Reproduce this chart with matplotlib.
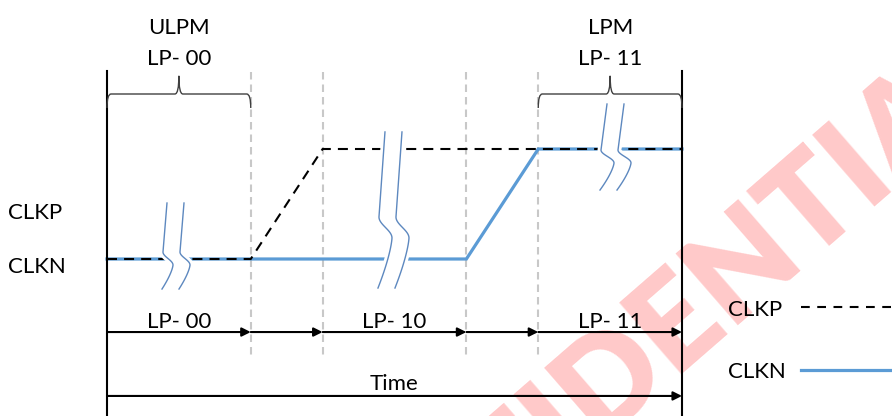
import numpy as np
import matplotlib
matplotlib.use("Agg")
import matplotlib.pyplot as plt
from matplotlib.path import Path
from matplotlib.patches import PathPatch

plt.rcParams["font.family"] = ["Lato", "DejaVu Sans"]

# --- data ---------------------------------------------------------------
# signal levels over time (time in arbitrary units, level 0 = low, 1 = high)
clkp_t = [0, 2, 3, 8]
clkp_v = [0, 0, 1, 1]
clkn_t = [0, 5, 6, 8]
clkn_v = [0, 0, 1, 1]

# state boundaries along the time axis and the state names between them
phase_edges = [0, 2, 3, 5, 6, 8]
phase_labels = ["LP- 00", "", "LP- 10", "", "LP- 11"]

# power modes shown with braces on top
mode_spans = [(0, 2), (6, 8)]
mode_names = ["ULPM", "LPM"]
mode_states = ["LP- 00", "LP- 11"]

# break marks: left time, top, bend, bulge, bottom (levels), bulge/top offsets (px)
break_t = [0.779, 3.784, 6.873]
break_top = [0.509, 1.155, 1.409]
break_bend = [0.064, 0.382, 0.991]
break_bulge = [-0.055, 0.191, 0.873]
break_bot = [-0.273, -0.264, 0.627]
break_dx = [10, 13, 13]
break_tdx = [4, 6, 6]

# --- layout -------------------------------------------------------------
PX_T = 71.875     # pixels per time unit
PX_L = 110.0      # pixels per level unit
BLUE = "#5b9bd5"
FS = 16

fig = plt.figure(figsize=(8.92, 4.16), dpi=100)
ax = fig.add_axes([0, 0, 1, 1])
ax.set_xlim(-107 / PX_T, (892 - 107) / PX_T)
ax.set_ylim(-157 / PX_L, 259 / PX_L)
ax.axis("off")

# watermark
ax.text(7.28, -0.96, "CONFIDENTIAL", fontsize=94, fontweight="heavy",
        color="#ffc9c9", rotation=41, rotation_mode="anchor",
        ha="center", va="center", zorder=0)

# frame lines
t_start, t_end = phase_edges[0], phase_edges[-1]
for t in (t_start, t_end):
    ax.plot([t, t], [1.71, -1.5], color="black", lw=1.5, zorder=3)
for t in phase_edges[1:-1]:
    ax.plot([t, t], [1.70, -0.90], color="#c8c8c8", lw=1.5,
            linestyle=(0, (3.6, 2.4)), zorder=1)

# signals
ax.plot(clkn_t, clkn_v, color=BLUE, lw=2.3, zorder=2, solid_joinstyle="miter")
ax.plot(clkp_t, clkp_v, color="black", lw=1.5, linestyle=(0, (4.8, 3.4)), zorder=3)


# break marks
def break_curve(t0, yt, yb, ym, ye, bulge, tdx, n=40):
    s = np.linspace(0, 1, n)
    y1 = yt + (yb - yt) * s
    d1 = tdx * (1 - s)
    y2 = yb + (ym - yb) * s
    d2 = bulge * (1 - np.cos(np.pi * s)) / 2
    y3 = ym + (ye - ym) * s
    d3 = bulge - (bulge + 1) * s ** 1.4
    y = np.r_[y1, y2[1:], y3[1:]]
    d = np.r_[d1, d2[1:], d3[1:]]
    return t0 + d / PX_T, y


gap = 17 / PX_T
for i in range(len(break_t)):
    xl, yl = break_curve(break_t[i], break_top[i], break_bend[i], break_bulge[i],
                         break_bot[i], break_dx[i], break_tdx[i])
    xr = xl + gap
    ax.fill(np.r_[xl, xr[::-1]], np.r_[yl, yl[::-1]], color="white", lw=0, zorder=4)
    for xx in (xl, xr):
        ax.plot(xx, yl, color="white", lw=5, zorder=4, solid_capstyle="butt")
        ax.plot(xx, yl, color="#5d88bf", lw=1.0, zorder=5)


# braces
def brace(t0, t1, y_base, y_tip, y_end):
    r = 4 / PX_T
    tm = (t0 + t1) / 2
    verts = [(t0, y_end), (t0, y_base), (t0 + r, y_base),
             (tm - r, y_base), (tm, y_base), (tm, y_tip),
             (tm, y_base), (tm + r, y_base),
             (t1 - r, y_base), (t1, y_base), (t1, y_end)]
    codes = [Path.MOVETO, Path.CURVE3, Path.CURVE3,
             Path.LINETO, Path.CURVE3, Path.CURVE3,
             Path.CURVE3, Path.CURVE3,
             Path.LINETO, Path.CURVE3, Path.CURVE3]
    return PathPatch(Path(verts, codes), fill=False, edgecolor="#404040", lw=1.0, zorder=3)


for (t0, t1), name, state in zip(mode_spans, mode_names, mode_states):
    ax.add_patch(brace(t0, t1, 1.50, 1.665, 1.373))
    tm = (t0 + t1) / 2
    ax.text(tm, 2.05, name, fontsize=FS, ha="center", va="baseline", zorder=6)
    ax.text(tm, 1.76, state, fontsize=FS, ha="center", va="baseline", zorder=6)

# state arrows
arrow_kw = dict(arrowstyle="-|>", lw=1.5, color="black", shrinkA=0, shrinkB=0,
                mutation_scale=13)
for t0, t1, lab in zip(phase_edges[:-1], phase_edges[1:], phase_labels):
    ax.annotate("", xy=(t1, -0.664), xytext=(t0, -0.664), arrowprops=arrow_kw, zorder=3)
    if lab:
        ax.text((t0 + t1) / 2, -0.627, lab, fontsize=FS, ha="center", va="baseline", zorder=6)

ax.annotate("", xy=(t_end, -1.245), xytext=(t_start, -1.245), arrowprops=arrow_kw, zorder=3)
ax.text((t_start + t_end) / 2, -1.191, "Time", fontsize=FS, ha="center", va="baseline", zorder=6)

# signal names on the left
ax.text(-1.377, 0.364, "CLKP", fontsize=FS, ha="left", va="baseline", zorder=6)
ax.text(-1.377, -0.127, "CLKN", fontsize=FS, ha="left", va="baseline", zorder=6)

# legend
ax.text(8.64, -0.518, "CLKP", fontsize=FS, ha="left", va="baseline", zorder=6)
ax.text(8.64, -1.082, "CLKN", fontsize=FS, ha="left", va="baseline", zorder=6)
ax.plot([9.656, 11.2], [-0.436, -0.436], color="black", lw=1.5,
        linestyle=(0, (4.2, 3.6)), zorder=3)
ax.plot([9.656, 11.2], [-1.009, -1.009], color=BLUE, lw=2.3, zorder=3)

fig.savefig("out.png", dpi=100)
